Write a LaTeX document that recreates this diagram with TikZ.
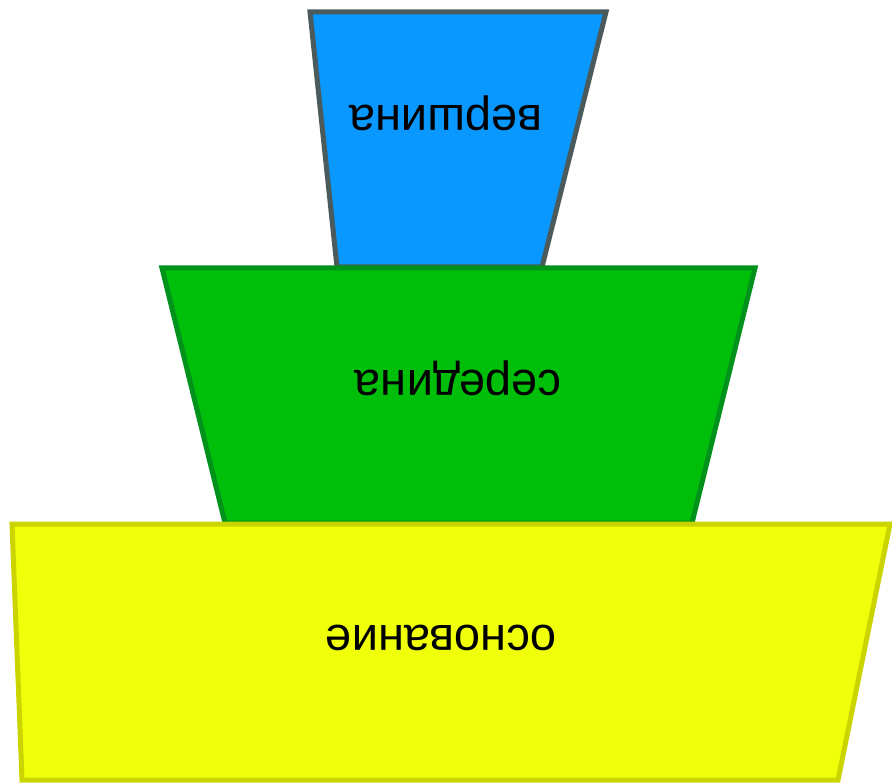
\documentclass[tikz,border=0pt]{standalone}
\usepackage{fontspec}
\setmainfont{Liberation Sans}
\definecolor{topfill}{HTML}{0898FF}
\definecolor{topline}{HTML}{4B5A5A}
\definecolor{midfill}{HTML}{00BF0A}
\definecolor{midline}{HTML}{00921A}
\definecolor{basefill}{HTML}{F0FF0A}
\definecolor{baseline}{HTML}{CCD400}
\tikzset{
	layer/.style={line width=5pt,line join=miter},
	label/.style={rotate=180,font=\fontsize{47}{50}\selectfont,text=black}
}
\begin{document}
\begin{tikzpicture}[x=1pt,y=-1pt]
			\useasboundingbox (0,0) rectangle (892,783);
			% top
			\coordinate (t1) at (310,12);
			\coordinate (t2) at (606,12);
			\coordinate (t3) at (542,267);
			\coordinate (t4) at (337,267);
			% middle
			\coordinate (m1) at (162,268);
			\coordinate (m2) at (755,268);
			\coordinate (m3) at (692,523);
			\coordinate (m4) at (225,523);
			% base
			\coordinate (b1) at (12,524);
			\coordinate (b2) at (890,524);
			\coordinate (b3) at (838,780);
			\coordinate (b4) at (22,780);

			\draw[layer,draw=topline,fill=topfill] (t1) -- (t2) -- (t3) -- (t4) -- cycle;
			\draw[layer,draw=midline,fill=midfill] (m1) -- (m2) -- (m3) -- (m4) -- cycle;
			\draw[layer,draw=baseline,fill=basefill] (b1) -- (b2) -- (b3) -- (b4) -- cycle;

			\node[label] (top) at (446,113) {вершина};
			\node[label] (middle) at (458,378) {середина};
			\node[label] (base) at (441,638) {основание};
		\end{tikzpicture}
\end{document}
